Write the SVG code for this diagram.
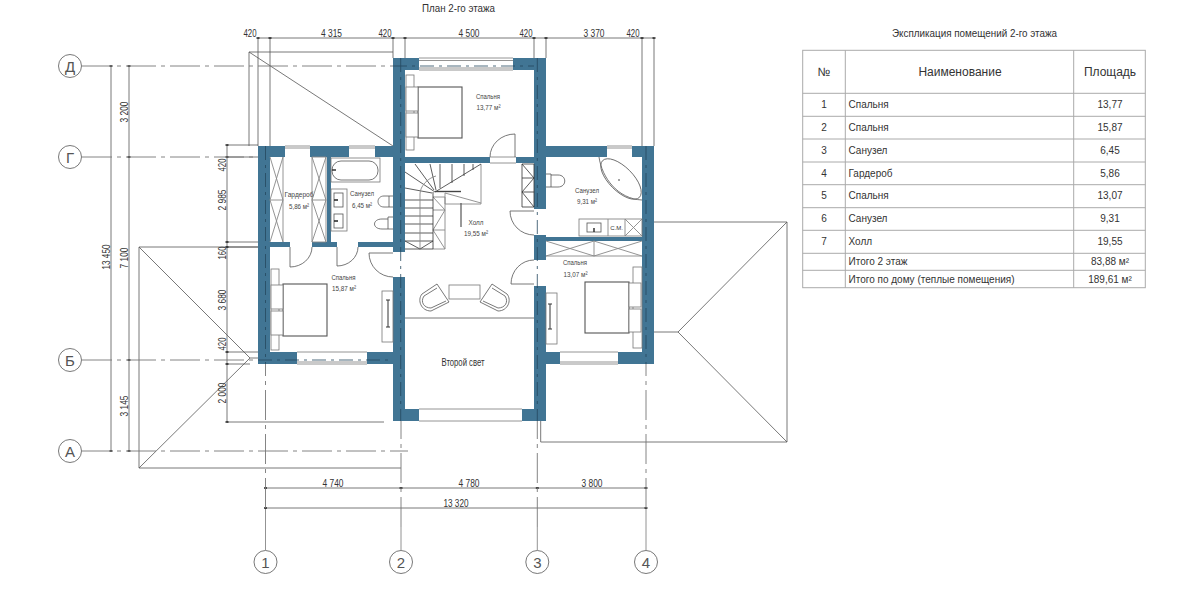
<svg xmlns="http://www.w3.org/2000/svg" width="1200" height="612" viewBox="0 0 1200 612">
<style>
text{font-family:"Liberation Sans",Arial,sans-serif;fill:#333}
.d{font-size:10px;text-anchor:middle}
.r{font-size:8px;text-anchor:middle;fill:#444}
.ax{font-size:15px;text-anchor:middle;fill:#555}
.t{font-size:10px;fill:#333}
.h{font-size:12px;text-anchor:middle}
.l{fill:none;stroke:#555;stroke-width:.8}
.g{fill:none;stroke:#888;stroke-width:.9}
.k{fill:none;stroke:#333;stroke-width:.8}
.f{fill:#fff;stroke:#777;stroke-width:.8}
.b{fill:#fff;stroke:#555;stroke-width:1.1}
.w{fill:#417594}
.axl{fill:none;stroke:#777;stroke-width:.9;stroke-dasharray:30 5 4 5}
.axd{fill:none;stroke:#24485e;stroke-width:.8;stroke-dasharray:14 5 3 5}
.circ{fill:#fff;stroke:#555;stroke-width:.8}
.tb{fill:none;stroke:#aaa;stroke-width:1}
.tick{fill:none;stroke:#222;stroke-width:1.4}
</style>

<text x="458.500" y="11.500" font-size="10" text-anchor="middle" textLength="73" lengthAdjust="spacingAndGlyphs">План 2-го этажа</text>

<g id="roofs" class="l">
<path d="M249,146V52H393M249,52L393,146"/>
<path d="M258,247H139V468H401M139,247L250,358L139,468M250,358H258"/>
<path d="M654,222H787V442H540.700V421M787,222L678,332L787,442M654,332H678"/>
</g>

<g id="dimensions" class="l">
<path d="M258,38H654M258,38V146M270,38V146M393,38V58M405,38V58M534,38V58M546,38V58M642,38V146M654,38V146"/>
<path d="M227,145V422M227,145H258M227,157H258M227,242H258M227,247H258M227,352H258M227,364H250M227,422H384"/>
<path d="M111,66V451M129,66V451"/>
<path d="M265.500,488H646M265.500,508H646"/>
<path d="M265.500,508V550M401,527V550M537.300,527V550M646,508V550" stroke="#777"/>
<g class="tick">
<path d="M256.500,38h3M268.500,38h3M391.500,38h3M403.500,38h3M532.500,38h3M544.500,38h3M640.500,38h3M652.500,38h3"/>
<path d="M225.500,145h3M225.500,157h3M225.500,242h3M225.500,247h3M225.500,352h3M225.500,364h3M225.500,422h3"/>
<path d="M109.500,66h3M127.500,66h3M127.500,157h3M127.500,360h3M109.500,451h3M127.500,451h3"/>
<path d="M264,488h3M399.500,488h3M535.800,488h3M644.500,488h3M264,508h3M644.500,508h3"/>
</g>
<g stroke="none">
<text class="d" x="250" y="37" textLength="13" lengthAdjust="spacingAndGlyphs">420</text>
<text class="d" x="331.500" y="37" textLength="21" lengthAdjust="spacingAndGlyphs">4 315</text>
<text class="d" x="385" y="37" textLength="13" lengthAdjust="spacingAndGlyphs">420</text>
<text class="d" x="469" y="37" textLength="21" lengthAdjust="spacingAndGlyphs">4 500</text>
<text class="d" x="526" y="37" textLength="13" lengthAdjust="spacingAndGlyphs">420</text>
<text class="d" x="594" y="37" textLength="21" lengthAdjust="spacingAndGlyphs">3 370</text>
<text class="d" x="633" y="37" textLength="13" lengthAdjust="spacingAndGlyphs">420</text>
<text class="d" x="333" y="487" textLength="21" lengthAdjust="spacingAndGlyphs">4 740</text>
<text class="d" x="469" y="487" textLength="21" lengthAdjust="spacingAndGlyphs">4 780</text>
<text class="d" x="592" y="487" textLength="21" lengthAdjust="spacingAndGlyphs">3 800</text>
<text class="d" x="456" y="507" textLength="25" lengthAdjust="spacingAndGlyphs">13 320</text>
<text class="d" transform="translate(110,257) rotate(-90)" textLength="25" lengthAdjust="spacingAndGlyphs">13 450</text>
<text class="d" transform="translate(128,112) rotate(-90)" textLength="21" lengthAdjust="spacingAndGlyphs">3 200</text>
<text class="d" transform="translate(128,258) rotate(-90)" textLength="21" lengthAdjust="spacingAndGlyphs">7 100</text>
<text class="d" transform="translate(128,406) rotate(-90)" textLength="21" lengthAdjust="spacingAndGlyphs">3 145</text>
<text class="d" transform="translate(226,165) rotate(-90)" textLength="13" lengthAdjust="spacingAndGlyphs">420</text>
<text class="d" transform="translate(226,200) rotate(-90)" textLength="21" lengthAdjust="spacingAndGlyphs">2 985</text>
<text class="d" transform="translate(226,253) rotate(-90)" textLength="13" lengthAdjust="spacingAndGlyphs">160</text>
<text class="d" transform="translate(226,300) rotate(-90)" textLength="21" lengthAdjust="spacingAndGlyphs">3 680</text>
<text class="d" transform="translate(226,344) rotate(-90)" textLength="13" lengthAdjust="spacingAndGlyphs">420</text>
<text class="d" transform="translate(226,393) rotate(-90)" textLength="21" lengthAdjust="spacingAndGlyphs">2 000</text>
</g>
</g>

<g id="walls">
<path class="w" d="M393,58H419V70H405V252H393V157H375V146H393Z"/>
<path class="w" d="M258,146H285V157H270V242H290V247H270V352H297V364H258Z"/>
<rect class="w" x="310" y="146" width="39" height="11"/>
<rect class="w" x="327" y="157" width="4" height="85"/>
<rect class="w" x="312" y="242" width="25" height="5"/>
<rect class="w" x="358" y="242" width="35" height="5"/>
<rect class="w" x="367" y="352" width="26" height="12"/>
<path class="w" d="M393,277H405V409H419V421H393Z"/>
<path class="w" d="M513,58H546V146H607V157H546V209H534V163H516V157H534V70H513Z"/>
<rect class="w" x="405" y="157" width="85" height="6"/>
<path class="w" d="M632,146H654V364H618V352H642V241H546V260H534V235H546V237H642V157H632Z"/>
<path class="w" d="M534,286H546V352H560V364H546V421H522V409H534Z"/>
</g>

<g id="windows" class="g">
<path d="M419,58H513M419,60.500H513M419,68H513M419,70H513" />
<path d="M285,146H310M285,148H310M349,146H375M349,148H375M607,146H632M607,148H632"/>
<path d="M297,352H367M297,362H367M297,364H367M560,352H618M560,362H618M560,364H618"/>
<path d="M419,409H522M419,421H522"/>
<path d="M490,157H516M490,163H516" />
</g>

<g id="doors" class="l">
<path d="M290,247V267A22,20 0 0 0 312,247"/>
<path d="M337,247V266A21,19 0 0 0 358,247"/>
<path d="M393,253H369A24,24 0 0 0 393,277"/>
<path d="M515,157V134A25,23 0 0 0 490,157"/>
<path d="M534,211H510A24,24 0 0 0 534,235"/>
<path d="M534,284H511A23,24 0 0 1 534,260"/>
</g>

<g id="hall">
<path class="l" d="M405,318H534"/>
<path class="g" d="M433,197H445V249H433M433,210H445M433,230H445M433,197L445,210L433,230L445,249"/>
<path class="g" d="M445,193V204H481V164M445,193L481,203"/>
<path class="k" d="M405,200H433M405,208H433M405,216H433M405,224H433M405,233H433M405,241H433M405,249H433M433,192V249"/>
<path class="k" d="M405,241L420,249L433,241"/>
<path class="k" d="M435,192L405,172M432,193L405,188M434,190L415,164M436,190L430,164M440,188L440,164M452,183V164M464,176V164M473,170V164"/>
<path class="k" d="M435,192L481,164"/>
<path class="g" d="M420,249V194C420,186 428,178 436,176"/>
<path d="M435,191.500H461" stroke="#444" stroke-width="1.400"/>
<path d="M461,203V227" stroke="#555" stroke-width="1.200"/>
<path class="k" d="M522,164H534V207H522ZM522,178H534M522,192H534M522,164L534,178L522,192L534,207"/>
<rect class="f" x="449" y="285" width="31" height="14"/>
<g class="l">
<path d="M437,284L449,302L431,311C421,311 417,300 422,294Z"/>
<path d="M437,288L424,296C420,302 424,308 431,308L446,301"/>
<path d="M492,284L480,302L498,311C508,311 512,300 507,294Z"/>
<path d="M492,288L505,296C509,302 505,308 498,308L483,301"/>
</g>
</g>

<g id="bedrooms">
<rect class="f" x="406" y="75" width="8" height="75"/>
<rect class="b" x="418" y="87" width="44" height="51"/>
<rect class="f" x="406" y="87" width="12" height="24"/>
<rect class="f" x="406" y="113" width="12" height="24"/>
<rect class="f" x="271" y="269" width="8" height="81"/>
<rect class="b" x="283" y="284" width="44" height="52"/>
<rect class="f" x="271" y="285" width="12" height="24"/>
<rect class="f" x="271" y="311" width="12" height="24"/>
<rect class="f" x="382" y="291" width="11" height="51"/>
<path d="M388,300V327M386,300H390M386,327H390" stroke="#333" stroke-width="1" fill="none"/>
<rect class="f" x="633" y="267" width="9" height="81"/>
<rect class="b" x="585" y="282" width="44" height="51"/>
<rect class="f" x="629" y="283" width="12" height="24"/>
<rect class="f" x="629" y="309" width="12" height="23"/>
<rect class="f" x="546" y="293" width="11" height="51"/>
<path d="M550,304V329M548,304H552M548,329H552" stroke="#333" stroke-width="1" fill="none"/>
<path class="g" d="M546,256H642M594,241V256M546,241L594,256M546,256L594,241M594,241L642,256M594,256L642,241"/>
</g>

<g id="wardrobe" class="g">
<path d="M270,200H283M283,157V242M270,157L283,200L270,242M283,157L270,200L283,242"/>
<path d="M312,157H326V242H312ZM312,200H326M312,157L326,200L312,242M326,157L312,200L326,242"/>
</g>

<g id="bath-left">
<rect class="f" x="331" y="158" width="49" height="24"/>
<rect class="l" x="332" y="161" width="46" height="19" rx="9"/>
<path d="M332,170H336" stroke="#222" stroke-width="1.400"/>
<rect class="f" x="331" y="189" width="16" height="42"/>
<rect class="l" x="334" y="193" width="9" height="14"/>
<rect class="l" x="334" y="214" width="9" height="14"/>
<path d="M334,200H338M334,221H338" stroke="#222" stroke-width="1.400"/>
<path class="l" d="M393,196H384C376,196 376,207 384,207H393M389,196V207"/>
<path class="l" d="M393,217H388V229H393M388,219H382C372,219 372,229 382,229H388"/>
</g>

<g id="bath-right">
<path class="l" d="M599,157C602,178 618,199 642,200"/>
<ellipse class="l" cx="621" cy="179" rx="26" ry="12" transform="rotate(45 621 179)"/>
<circle cx="619" cy="180" r=".8" fill="#333"/>
<path class="l" d="M546,174H551V187H546M551,175H558C567,175 567,187 558,187H551"/>
<rect class="f" x="579" y="219" width="63" height="17"/>
<path class="g" d="M608,219V236M625,219V236M625,219L642,236M642,219L625,236"/>
<rect class="l" x="587" y="223" width="14" height="9"/>
<path d="M594,228V232" stroke="#222" stroke-width="1.400"/>
<text x="616.500" y="230" font-size="6" text-anchor="middle" fill="#555">С.М.</text>
</g>

<g id="axes">
<path class="axd" d="M393,66H534"/>
<path class="axd" d="M258,360H393"/>
<path class="axd" d="M265.500,146V364M400.700,58V421M537.300,58V421M646,146V364"/>
<path class="axl" d="M82,66H393M82,157H258M82,360H258M82,451H408"/>
<path class="axl" d="M265.500,508V364M401,527V421M537.300,527V421M646,508V364"/>
<circle class="circ" cx="70" cy="66" r="11.500"/><text class="ax" x="70" y="71.500">Д</text>
<circle class="circ" cx="70" cy="157" r="11.500"/><text class="ax" x="70" y="162.500">Г</text>
<circle class="circ" cx="70" cy="360" r="11.500"/><text class="ax" x="70" y="365.500">Б</text>
<circle class="circ" cx="70" cy="451" r="11.500"/><text class="ax" x="70" y="456.500">А</text>
<circle class="circ" cx="265.500" cy="562" r="11.500"/><text class="ax" x="265.500" y="567.500">1</text>
<circle class="circ" cx="401" cy="562" r="11.500"/><text class="ax" x="401" y="567.500">2</text>
<circle class="circ" cx="537.300" cy="562" r="11.500"/><text class="ax" x="537.300" y="567.500">3</text>
<circle class="circ" cx="646" cy="562" r="11.500"/><text class="ax" x="646" y="567.500">4</text>
</g>

<g id="room-labels">
<text class="r" x="488" y="99" textLength="24" lengthAdjust="spacingAndGlyphs">Спальня</text>
<text class="r" x="488.500" y="110" textLength="24" lengthAdjust="spacingAndGlyphs">13,77 м²</text>
<text class="r" x="299" y="197" textLength="29" lengthAdjust="spacingAndGlyphs">Гардероб</text>
<text class="r" x="299" y="209" textLength="20" lengthAdjust="spacingAndGlyphs">5,86 м²</text>
<text class="r" x="362" y="196" textLength="24" lengthAdjust="spacingAndGlyphs">Санузел</text>
<text class="r" x="362" y="208" textLength="20" lengthAdjust="spacingAndGlyphs">6,45 м²</text>
<text class="r" x="343.500" y="280" textLength="24" lengthAdjust="spacingAndGlyphs">Спальня</text>
<text class="r" x="344" y="291" textLength="24" lengthAdjust="spacingAndGlyphs">15,87 м²</text>
<text class="r" x="476" y="225" textLength="15" lengthAdjust="spacingAndGlyphs">Холл</text>
<text class="r" x="476" y="236" textLength="24" lengthAdjust="spacingAndGlyphs">19,55 м²</text>
<text class="r" x="587" y="193" textLength="24" lengthAdjust="spacingAndGlyphs">Санузел</text>
<text class="r" x="587" y="204" textLength="20" lengthAdjust="spacingAndGlyphs">9,31 м²</text>
<text class="r" x="575" y="265" textLength="24" lengthAdjust="spacingAndGlyphs">Спальня</text>
<text class="r" x="575.500" y="277" textLength="24" lengthAdjust="spacingAndGlyphs">13,07 м²</text>
<text x="463" y="365.500" font-size="10.500" text-anchor="middle" textLength="43" lengthAdjust="spacingAndGlyphs">Второй свет</text>
</g>

<g id="table">
<text x="974.500" y="36.500" font-size="10" text-anchor="middle" textLength="165" lengthAdjust="spacingAndGlyphs">Экспликация помещений 2-го этажа</text>
<rect class="tb" x="802.700" y="50.300" width="342.600" height="237.400"/>
<path class="tb" d="M845.300,50.300V287.700M1073.700,50.300V287.700M802.700,93.300H1145.300M802.700,116.300H1145.300M802.700,139H1145.300M802.700,162H1145.300M802.700,184.700H1145.300M802.700,207.700H1145.300M802.700,230.300H1145.300M802.700,253.300H1145.300M802.700,270.300H1145.300"/>
<text class="h" x="824" y="76">№</text>
<text class="h" x="960" y="76">Наименование</text>
<text class="h" x="1110" y="76">Площадь</text>
<g class="t">
<text x="824" y="108" text-anchor="middle">1</text><text x="848.500" y="108">Спальня</text><text x="1110" y="108" text-anchor="middle">13,77</text>
<text x="824" y="131" text-anchor="middle">2</text><text x="848.500" y="131">Спальня</text><text x="1110" y="131" text-anchor="middle">15,87</text>
<text x="824" y="154" text-anchor="middle">3</text><text x="848.500" y="154">Санузел</text><text x="1110" y="154" text-anchor="middle">6,45</text>
<text x="824" y="176.500" text-anchor="middle">4</text><text x="848.500" y="176.500">Гардероб</text><text x="1110" y="176.500" text-anchor="middle">5,86</text>
<text x="824" y="199" text-anchor="middle">5</text><text x="848.500" y="199">Спальня</text><text x="1110" y="199" text-anchor="middle">13,07</text>
<text x="824" y="222" text-anchor="middle">6</text><text x="848.500" y="222">Санузел</text><text x="1110" y="222" text-anchor="middle">9,31</text>
<text x="824" y="245" text-anchor="middle">7</text><text x="848.500" y="245">Холл</text><text x="1110" y="245" text-anchor="middle">19,55</text>
<text x="848.500" y="265">Итого 2 этаж</text><text x="1110" y="265" text-anchor="middle">83,88 м²</text>
<text x="848.500" y="282.500">Итого по дому (теплые помещения)</text><text x="1110" y="282.500" text-anchor="middle">189,61 м²</text>
</g>
</g>
</svg>
